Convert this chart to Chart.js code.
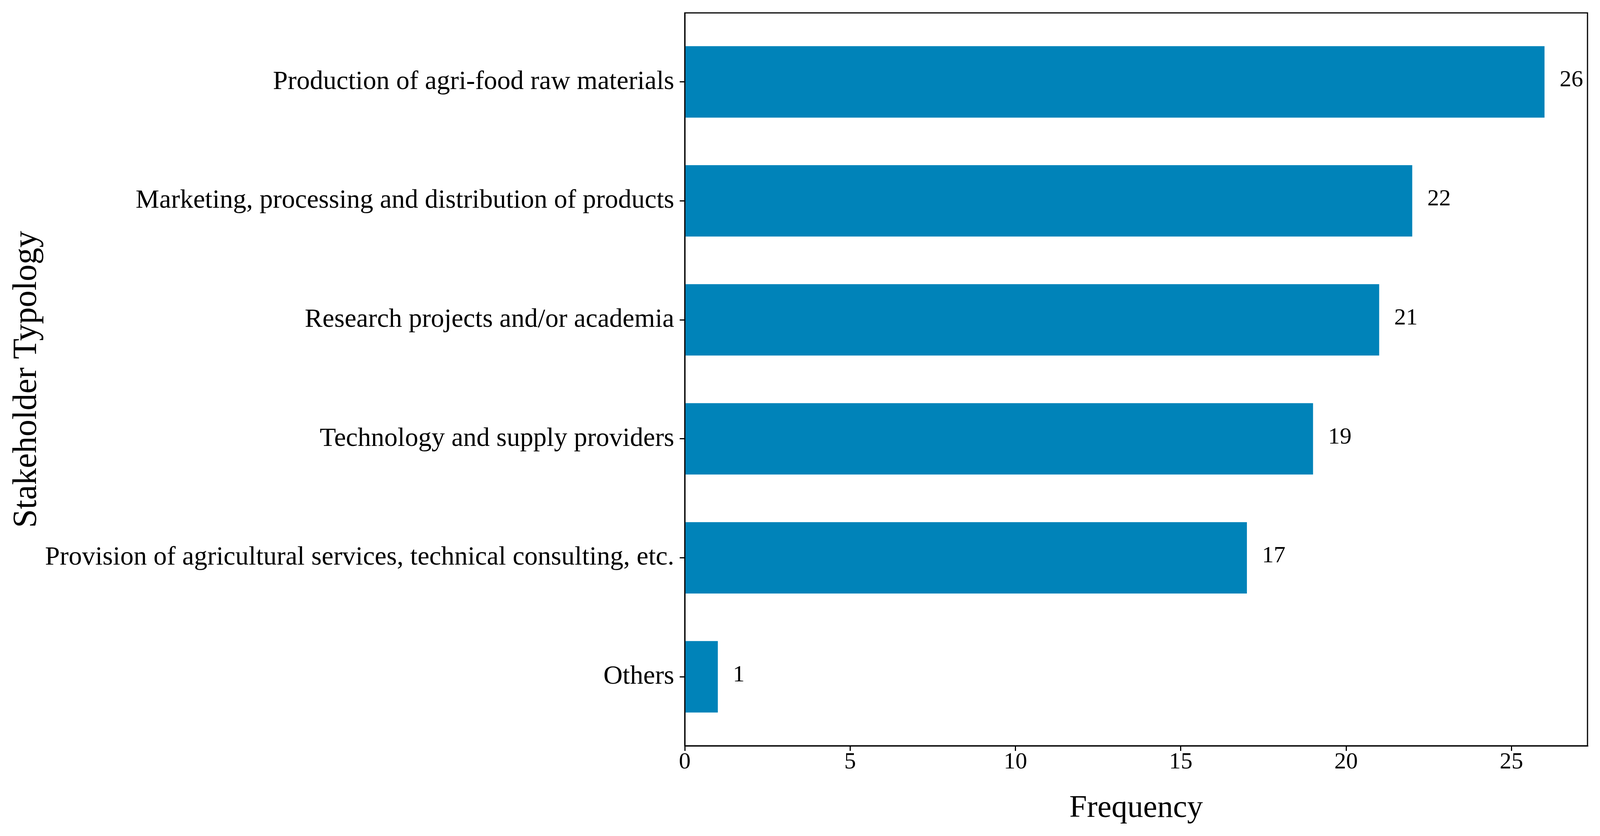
<!DOCTYPE html>
<html>
<head>
<meta charset="utf-8">
<script src="https://cdn.jsdelivr.net/npm/chart.js@4.4.1/dist/chart.umd.min.js"></script>
<style>
  html, body { margin: 0; padding: 0; background: #fff; overflow: hidden; }
  canvas { display: block; }
</style>
</head>
<body>
<canvas id="mycanvas"></canvas>
<script>
// categories, listed top to bottom
var categories = [
  "Production of agri-food raw materials",
  "Marketing, processing and distribution of products",
  "Research projects and/or academia",
  "Technology and supply providers",
  "Provision of agricultural services, technical consulting, etc.",
  "Others"
];
var frequencies = [26, 22, 21, 19, 17, 1];
var xTicks = [0, 5, 10, 15, 20, 25];

var FONT = "'Liberation Serif', 'Times New Roman', serif";

// size everything relative to the window (reference was 4236x2141)
var W = window.innerWidth, H = window.innerHeight;
var f = W / 4236, g = H / 2141;
var canvas = document.getElementById('mycanvas');
canvas.width = W;
canvas.height = H;

Chart.defaults.color = '#000';
Chart.defaults.font.family = FONT;

// value labels at the end of each bar
var valueLabels = {
  id: 'valueLabels',
  afterDatasetsDraw: function(chart){
    var ctx = chart.ctx;
    var meta = chart.getDatasetMeta(0);
    ctx.save();
    ctx.font = Math.round(62 * f) + "px " + FONT;
    ctx.fillStyle = '#000';
    ctx.textAlign = 'left';
    ctx.textBaseline = 'middle';
    meta.data.forEach(function(bar, i){
      ctx.fillText(String(frequencies[i]), bar.x + 40 * f, bar.y - 4 * g);
    });
    ctx.restore();
  }
};

// box around the plot area (matplotlib spines)
var frame = {
  id: 'frame',
  afterDraw: function(chart){
    var a = chart.chartArea;
    var ctx = chart.ctx;
    ctx.save();
    ctx.strokeStyle = '#000';
    ctx.lineWidth = 3;
    ctx.strokeRect(a.left, a.top, a.right - a.left, a.bottom - a.top);
    ctx.restore();
  }
};

var chart = new Chart(canvas, {
  type: 'bar',
  data: {
    datasets: [{
      label: 'Frequency',
      backgroundColor: '#0083b9',
      borderWidth: 0,
      barPercentage: 0.6,
      categoryPercentage: 1.0,
      data: frequencies.map(function(v, i){ return {x: v, y: i}; })
    }]
  },
  options: {
    indexAxis: 'y',
    responsive: false,
    animation: false,
    devicePixelRatio: 1,
    layout: {
      padding: { left: 0, right: Math.round(33 * f), top: Math.round(33 * g), bottom: 0 }
    },
    plugins: {
      legend: { display: false },
      tooltip: { enabled: false }
    },
    scales: {
      x: {
        type: 'linear',
        min: 0,
        max: 27.3,
        offset: false,
        afterBuildTicks: function(scale){
          scale.ticks = xTicks.map(function(v){ return {value: v}; });
        },
        afterFit: function(scale){
          scale.height = Math.round(231 * g);
          scale.paddingLeft = 0;
          scale.paddingRight = 0;
        },
        grid: { offset: false, drawOnChartArea: false, drawTicks: true, tickLength: 13, color: '#000', lineWidth: 3 },
        border: { display: true, color: '#000', width: 3 },
        ticks: { font: { size: Math.round(62 * f) }, padding: -7, maxRotation: 0 },
        title: { display: true, text: 'Frequency', font: { size: Math.round(84 * f) }, padding: { top: 0, bottom: 22 } }
      },
      y: {
        type: 'linear',
        reverse: true,
        min: -0.58,
        max: 5.58,
        offset: false,
        afterBuildTicks: function(scale){
          scale.ticks = categories.map(function(c, i){ return {value: i}; });
        },
        afterFit: function(scale){
          scale.width = Math.round(1813 * f);
          scale.paddingTop = 0;
          scale.paddingBottom = 0;
        },
        grid: { offset: false, drawOnChartArea: false, drawTicks: true, tickLength: 13, color: '#000', lineWidth: 3 },
        border: { display: true, color: '#000', width: 3 },
        ticks: {
          font: { size: Math.round(70 * f) },
          padding: 14,
          autoSkip: false,
          callback: function(value){ return categories[value]; }
        },
        title: { display: true, text: 'Stakeholder Typology', font: { size: 86 }, padding: { top: 18, bottom: 0 } }
      }
    }
  },
  plugins: [valueLabels, frame]
});
</script>
</body>
</html>
